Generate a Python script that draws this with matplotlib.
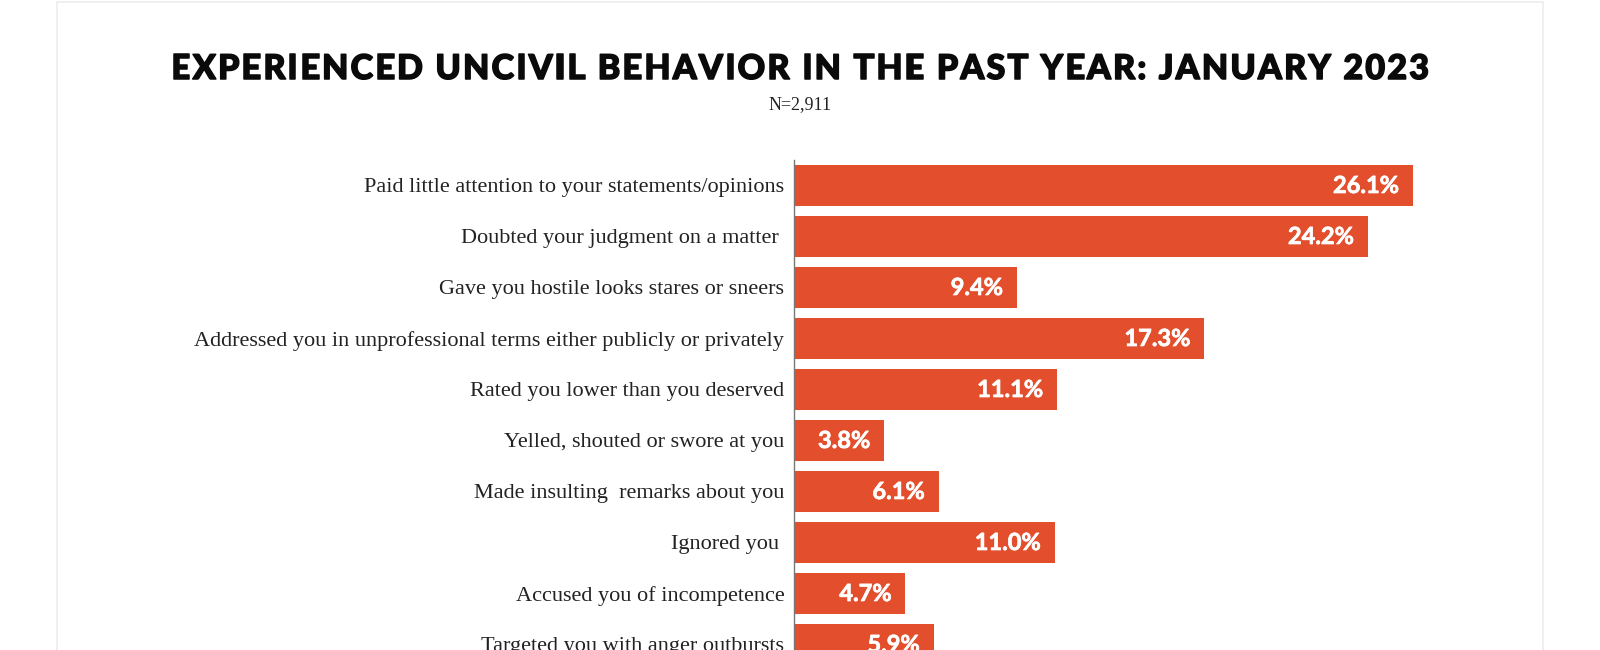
import matplotlib
matplotlib.use("Agg")
import matplotlib.pyplot as plt
import matplotlib.patheffects as pe
from matplotlib.patches import Rectangle
from matplotlib.font_manager import FontProperties
from matplotlib.textpath import TextToPath

title = "EXPERIENCED UNCIVIL BEHAVIOR IN THE PAST YEAR: JANUARY 2023"
subtitle = "N=2,911"
categories = [
    "Paid little attention to your statements/opinions",
    "Doubted your judgment on a matter ",
    "Gave you hostile looks stares or sneers",
    "Addressed you in unprofessional terms either publicly or privately",
    "Rated you lower than you deserved",
    "Yelled, shouted or swore at you",
    "Made insulting  remarks about you",
    "Ignored you ",
    "Accused you of incompetence",
    "Targeted you with anger outbursts",
]
values = [26.1, 24.2, 9.4, 17.3, 11.1, 3.8, 6.1, 11.0, 4.7, 5.9]

W, H = 1600, 650
fig = plt.figure(figsize=(W / 100, H / 100), dpi=100)
fig.patch.set_facecolor("white")

# card border
fig.patches.append(Rectangle((57 / W, -0.1), (1543 - 57) / W, 1.1 - 1.5 / H,
                             transform=fig.transFigure, fill=False,
                             edgecolor="#ececec", linewidth=1.2, zorder=0))

bar_color = "#E34F2D"
x0 = 794
px_per_unit = (1413 - 794) / 26.1
xmax = 30
ax_top = 160
pitch = 51
n = len(categories)
ax_bottom = ax_top + pitch * n
ax = fig.add_axes([x0 / W, (H - ax_bottom) / H, xmax * px_per_unit / W, (ax_bottom - ax_top) / H])
ax.set_xlim(0, xmax)
ax.set_ylim(n - 0.5, -0.5)
ypos = list(range(n))
ax.barh(ypos, values, height=0.8, color=bar_color, zorder=2)
for s in ["top", "right", "bottom"]:
    ax.spines[s].set_visible(False)
ax.spines["left"].set_color("#777777")
ax.spines["left"].set_linewidth(1.0)
ax.set_xticks([])
ax.set_yticks(ypos)
ax.set_yticklabels(categories, family="Liberation Serif", fontsize=16, color="#222222")
ax.tick_params(axis="y", length=0, pad=7)
ax.patch.set_alpha(0)

for y, v in zip(ypos, values):
    ax.annotate(f"{v:.1f}%", xy=(v, y), xytext=(-14 * 0.72, 0), textcoords="offset points",
                ha="right", va="center", color="white", fontsize=17,
                family="Lato", fontweight="bold",
                path_effects=[pe.withStroke(linewidth=0.5, foreground="white")])

# title with letter tracking
tprop = FontProperties(family="Lato", weight="black", size=24.5)
t2p = TextToPath()
def width_px(s):
    if not s:
        return 0.0
    w, h, d = t2p.get_text_width_height_descent(s, tprop, ismath=False)
    return w * 100 / 72
target_w = 1430 - 170 - 2
natural = width_px(title)
track = (target_w - natural) / (len(title) - 1)
start = 800 - target_w / 2
for i, ch in enumerate(title):
    if ch == " ":
        continue
    xi = start + width_px(title[:i]) + i * track
    fig.text(xi / W, 1 - 66 / H, ch, ha="left", va="center_baseline",
             fontproperties=tprop, color="#0a0a0a",
             path_effects=[pe.withStroke(linewidth=1.1, foreground="#0a0a0a")])

fig.text(800 / W, 1 - 105 / H, subtitle, ha="center", va="center",
         family="Liberation Serif", fontsize=13, color="#222222")

fig.savefig("out.png", dpi=100, facecolor="white")
